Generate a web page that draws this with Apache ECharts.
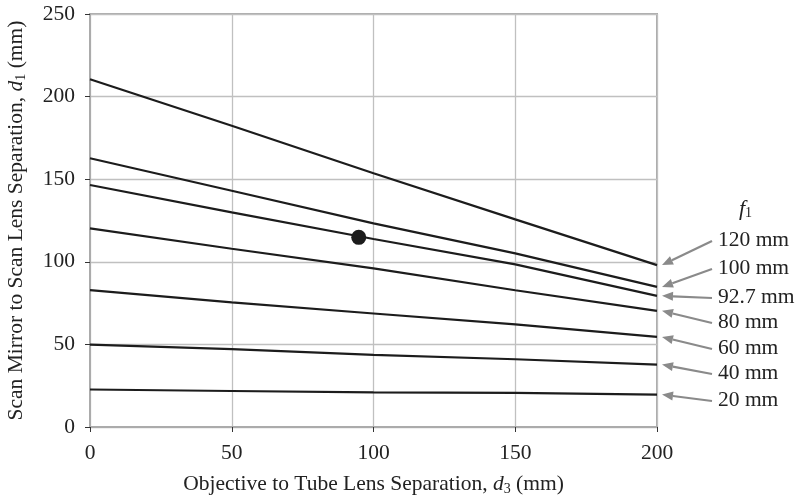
<!DOCTYPE html>
<html>
<head>
<meta charset="utf-8">
<script src="https://cdn.jsdelivr.net/npm/echarts@6/dist/echarts.min.js"></script>
<style>
  html, body { margin: 0; padding: 0; background: #fff; }
  #chart { width: 795px; height: 497px; }
</style>
</head>
<body>
<div id="chart"></div>
<script>
// Objective-to-tube-lens separation d3 (mm) sampled along the x axis
const d3Values = [0, 50, 100, 150, 200];

// Scan-mirror-to-scan-lens separation d1 (mm) for each scan lens focal length f1
const d1_f120 = [210.5, 182.4, 153.6, 125.7, 98.0];
const d1_f100 = [162.7, 143.0, 123.3, 105.1, 84.8];
const d1_f927 = [146.5, 129.9, 113.8, 98.4, 79.4];
const d1_f80  = [120.2, 107.9, 96.0, 82.8, 70.3];
const d1_f60  = [82.8, 75.4, 68.7, 62.1, 54.5];
const d1_f40  = [49.9, 47.1, 43.6, 41.0, 37.8];
const d1_f20  = [22.7, 21.8, 21.0, 20.6, 19.6];

const focalLabels = ['120 mm', '100 mm', '92.7 mm', '80 mm', '60 mm', '40 mm', '20 mm'];
const curves = [d1_f120, d1_f100, d1_f927, d1_f80, d1_f60, d1_f40, d1_f20];

// Chosen design point (d3, d1)
const designPoint = [94.8, 114.8];

// Axis ticks
const xTicks = [0, 50, 100, 150, 200];
const yTicks = [0, 50, 100, 150, 200, 250];

const FONT = '"Liberation Serif", "DejaVu Serif", serif';
const FS = 21.5;
const chart = echarts.init(document.getElementById('chart'), null, { renderer: 'canvas' });

const lineSeries = curves.map((vals, i) => ({
  name: focalLabels[i],
  type: 'line',
  data: d3Values.map((x, k) => [x, vals[k]]),
  symbol: 'none',
  smooth: false,
  lineStyle: { color: '#1c1c1c', width: 2.2 },
  z: 3
}));

const richName = {
  i: { fontFamily: FONT, fontSize: FS, fontStyle: 'italic', color: '#222' },
  s: { fontFamily: FONT, fontSize: 14, color: '#222', padding: [9, 0, 0, 0] }
};

chart.setOption({
  animation: false,
  backgroundColor: '#fff',
  textStyle: { fontFamily: FONT },
  grid: {
    left: 90, right: 138, top: 14, bottom: 70,
    show: true, borderColor: '#ababab', borderWidth: 2,
    containLabel: false, outerBoundsMode: 'none'
  },
  xAxis: {
    type: 'value',
    min: xTicks[0], max: xTicks[xTicks.length - 1], interval: xTicks[1] - xTicks[0],
    name: 'Objective to Tube Lens Separation, {i|d}{s|3} (mm)',
    nameLocation: 'middle', nameGap: 46,
    nameTextStyle: { fontFamily: FONT, fontSize: FS, color: '#222', rich: richName },
    axisLine: { show: true, lineStyle: { color: '#ababab', width: 2 } },
    axisTick: { show: true, length: 5, lineStyle: { color: '#333', width: 1 } },
    axisLabel: { fontFamily: FONT, fontSize: FS, color: '#222', margin: 15 },
    splitLine: { show: true, lineStyle: { color: '#c0c0c0', width: 1.3 } }
  },
  yAxis: {
    type: 'value',
    min: yTicks[0], max: yTicks[yTicks.length - 1], interval: yTicks[1] - yTicks[0],
    name: 'Scan Mirror to Scan Lens Separation, {i|d}{s|1} (mm)',
    nameLocation: 'middle', nameGap: 62, nameRotate: 90,
    nameTextStyle: { fontFamily: FONT, fontSize: FS, color: '#222', rich: richName },
    axisLine: { show: true, lineStyle: { color: '#ababab', width: 2 } },
    axisTick: { show: true, length: 5, lineStyle: { color: '#333', width: 1 } },
    axisLabel: { fontFamily: FONT, fontSize: FS, color: '#222', margin: 15 },
    splitLine: { show: true, lineStyle: { color: '#c0c0c0', width: 1.3 } }
  },
  series: lineSeries.concat([{
    name: 'design point',
    type: 'scatter',
    data: [designPoint],
    symbol: 'circle',
    symbolSize: 15,
    itemStyle: { color: '#1c1c1c', opacity: 1 },
    z: 5
  }])
});

// Focal-length callouts: each arrow points at the end of its curve at d3 = 200
const labelX = 718;
const labelY = [240, 268, 297, 322, 348, 373, 400];
const graphics = [];
const arrowColor = '#8a8a8a';

curves.forEach((vals, i) => {
  const end = chart.convertToPixel({ gridIndex: 0 }, [d3Values[d3Values.length - 1], vals[vals.length - 1]]);
  const tipX = end[0] + 5, tipY = end[1];
  const startX = labelX - 6, startY = labelY[i] + 1;
  const ang = Math.atan2(tipY - startY, tipX - startX);
  const headLen = 11, headHalf = 4.5;
  const bx = tipX - headLen * Math.cos(ang), by = tipY - headLen * Math.sin(ang);
  const nx = -Math.sin(ang), ny = Math.cos(ang);
  graphics.push({
    type: 'line',
    shape: { x1: startX, y1: startY, x2: bx, y2: by },
    style: { stroke: arrowColor, lineWidth: 2.2 },
    z: 10
  });
  graphics.push({
    type: 'polygon',
    shape: { points: [[tipX, tipY], [bx + nx * headHalf, by + ny * headHalf], [bx - nx * headHalf, by - ny * headHalf]] },
    style: { fill: arrowColor },
    z: 10
  });
  graphics.push({
    type: 'text',
    x: labelX, y: labelY[i],
    style: { text: focalLabels[i], fontFamily: FONT, fontSize: FS, fill: '#222', verticalAlign: 'middle', align: 'left' },
    z: 10
  });
});

graphics.push({
  type: 'text',
  x: 739, y: 209,
  style: {
    text: '{i|f}{s|1}',
    verticalAlign: 'middle', align: 'left',
    rich: {
      i: { fontFamily: FONT, fontSize: 22, fontStyle: 'italic', fill: '#222', color: '#222' },
      s: { fontFamily: FONT, fontSize: 14, fill: '#222', color: '#222', padding: [9, 0, 0, 0] }
    }
  },
  z: 10
});

chart.setOption({ graphic: graphics });
</script>
</body>
</html>
